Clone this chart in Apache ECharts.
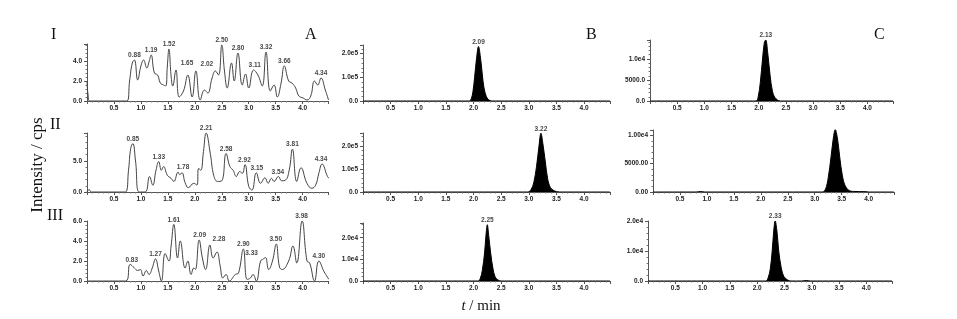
<!DOCTYPE html>
<html>
<head>
<meta charset="utf-8">
<script src="https://cdn.jsdelivr.net/npm/echarts/dist/echarts.min.js"></script>
<style>html,body{margin:0;padding:0;background:#fff}#chart{width:957px;height:319px}</style>
</head>
<body>
<div id="chart"></div>
<script>
// column A: matrix traces (time in min, intensity in cps, scaled)
var tA1 = [0, 0.02, 0.05, 0.74, 0.79, 0.84, 0.88, 0.94, 1.0, 1.05, 1.11, 1.15, 1.19, 1.25, 1.31, 1.36, 1.42, 1.46, 1.49, 1.52, 1.56, 1.59, 1.65, 1.71, 1.79, 1.87, 1.95, 2.02, 2.1, 2.18, 2.24, 2.32, 2.38, 2.44, 2.5, 2.55, 2.6, 2.68, 2.73, 2.8, 2.88, 2.94, 3.0, 3.09, 3.17, 3.25, 3.32, 3.4, 3.47, 3.53, 3.6, 3.66, 3.74, 3.8, 3.87, 3.93, 4.01, 4.08, 4.15, 4.22, 4.28, 4.34, 4.42, 4.48];
var iA1 = [2.0, 0.6, 0, 0, 2.0, 3.8, 4.1, 2.1, 3.5, 4.1, 3.3, 3.9, 4.6, 2.8, 2.6, 1.8, 1.6, 1.5, 3.5, 5.2, 2.5, 1.5, 3.1, 0.4, 1.0, 2.6, 0.4, 3.0, 0.1, 1.1, 0.8, 2.3, 3.0, 2.6, 5.6, 3.0, 1.3, 3.8, 2.0, 4.8, 1.6, 2.7, 1.3, 3.1, 2.6, 1.5, 4.9, 1.0, 1.6, 0.4, 1.8, 3.5, 2.0, 1.8, 1.3, 0.5, 0.3, 0.1, 0.5, 2.0, 1.6, 2.3, 1.1, 0.1];
var tA2 = [0, 0.04, 0.08, 0.71, 0.77, 0.81, 0.85, 0.9, 0.97, 1.08, 1.16, 1.22, 1.28, 1.33, 1.38, 1.42, 1.49, 1.56, 1.61, 1.69, 1.72, 1.76, 1.82, 1.88, 1.98, 2.04, 2.07, 2.11, 2.16, 2.21, 2.29, 2.35, 2.42, 2.5, 2.58, 2.65, 2.71, 2.77, 2.83, 2.88, 2.93, 3.0, 3.06, 3.14, 3.22, 3.3, 3.36, 3.42, 3.47, 3.55, 3.61, 3.68, 3.75, 3.81, 3.89, 3.97, 4.08, 4.17, 4.24, 4.3, 4.36, 4.46, 4.49];
var iA2 = [0, 0.4, 0, 0, 3.5, 7.0, 7.8, 5.0, 0, 0, 2.5, 1.1, 3.5, 4.9, 3.5, 4.1, 2.7, 2.2, 1.7, 3.2, 2.8, 3.1, 1.5, 0.7, 1.4, 1.1, 3.8, 3.5, 6.5, 9.5, 6.0, 2.7, 1.7, 1.8, 6.2, 4.1, 3.5, 2.5, 3.3, 3.0, 4.4, 0.9, 0.3, 3.1, 1.4, 2.3, 1.4, 2.2, 1.7, 2.5, 1.8, 1.9, 3.5, 6.9, 1.7, 3.9, 1.4, 0.6, 1.1, 3.0, 4.5, 2.5, 2.2];
var tA3 = [0, 0.72, 0.8, 0.88, 0.94, 0.99, 1.04, 1.1, 1.15, 1.21, 1.27, 1.33, 1.38, 1.45, 1.52, 1.56, 1.61, 1.68, 1.73, 1.82, 1.87, 1.93, 1.98, 2.01, 2.08, 2.14, 2.2, 2.28, 2.34, 2.41, 2.47, 2.52, 2.58, 2.64, 2.75, 2.81, 2.9, 2.97, 3.03, 3.08, 3.14, 3.22, 3.27, 3.31, 3.37, 3.44, 3.51, 3.57, 3.62, 3.74, 3.82, 3.89, 3.99, 4.08, 4.13, 4.22, 4.3, 4.4, 4.49];
var iA3 = [0, 0, 1.66, 1.3, 1.05, 1.15, 0.5, 1.05, 0.65, 1.3, 2.2, 1.0, 0, 2.75, 2.0, 3.5, 5.66, 2.3, 4.0, 1.3, 2.0, 0.65, 1.3, 1.15, 4.1, 2.3, 1.15, 3.6, 2.3, 2.9, 1.5, 0.3, 0.65, 0, 0.65, 0.8, 3.2, 0.15, 0.3, 0.65, 0, 2.0, 2.2, 2.35, 1.15, 2.0, 3.7, 1.4, 1.15, 2.0, 3.5, 1.8, 6.0, 2.0, 1.8, 0, 2.0, 0.9, 0.15];

// column B / C: single analyte peaks
var tB1 = [0, 1.92, 1.96, 1.99, 2.02, 2.055, 2.09, 2.125, 2.16, 2.19, 2.23, 2.27, 2.33, 4.47];
var iB1 = [0, 0, 10000, 40000, 100000, 180000, 230000, 185000, 110000, 55000, 20000, 6000, 0, 0];
var tB2 = [0, 2.98, 3.04, 3.09, 3.14, 3.185, 3.22, 3.255, 3.3, 3.34, 3.39, 3.46, 3.56, 4.47];
var iB2 = [0, 0, 10000, 40000, 110000, 200000, 255000, 210000, 130000, 60000, 20000, 5000, 0, 0];
var tB3 = [0, 2.08, 2.12, 2.16, 2.2, 2.225, 2.25, 2.275, 2.31, 2.35, 2.39, 2.44, 2.5, 4.47];
var iB3 = [0, 0, 1000, 5000, 13000, 21000, 26000, 21000, 13000, 6000, 2000, 500, 0, 0];
var tC1 = [0, 1.95, 1.99, 2.03, 2.07, 2.105, 2.13, 2.165, 2.21, 2.25, 2.3, 2.4, 4.47];
var iC1 = [0, 0, 1000, 4500, 10000, 14000, 14500, 11500, 6000, 2500, 800, 0, 0];
var tC2 = [0, 0.8, 0.88, 0.96, 3.14, 3.2, 3.25, 3.3, 3.345, 3.38, 3.42, 3.465, 3.51, 3.56, 3.63, 3.72, 3.95, 4.0, 4.47];
var iC2 = [0, 0, 80, 0, 0, 500, 2500, 6000, 9500, 11000, 9500, 6000, 3000, 1200, 300, 100, 60, 0, 0];
var tC3 = [0, 2.16, 2.2, 2.24, 2.275, 2.305, 2.33, 2.36, 2.395, 2.44, 2.49, 2.56, 2.62, 2.82, 2.9, 2.98, 4.47];
var iC3 = [0, 0, 1000, 4000, 10000, 17000, 20000, 17000, 10000, 4500, 1500, 300, 0, 0, 150, 0, 0];

// labelled retention times and the height the label sits on
var pkA1 = [0.88, 1.19, 1.52, 1.65, 2.02, 2.50, 2.80, 3.11, 3.32, 3.66, 4.34];
var pkA1H = [4.1, 4.6, 5.2, 3.1, 3.0, 5.6, 4.8, 3.1, 4.9, 3.5, 2.3];
var pkA2 = [0.85, 1.33, 1.78, 2.21, 2.58, 2.92, 3.15, 3.54, 3.81, 4.34];
var pkA2H = [7.8, 4.9, 3.2, 9.5, 6.2, 4.4, 3.1, 2.5, 6.9, 4.5];
var pkA3 = [0.83, 1.27, 1.61, 2.09, 2.28, 2.90, 3.33, 3.50, 3.98, 4.30];
var pkA3H = [1.66, 2.2, 5.66, 4.1, 3.6, 3.2, 2.35, 3.7, 6.0, 2.0];
var pkB1 = [2.09], pkB1H = [230000];
var pkB2 = [3.22], pkB2H = [255000];
var pkB3 = [2.25], pkB3H = [26000];
var pkC1 = [2.13], pkC1H = [14500];
var pkC2 = [3.38], pkC2H = [11000];
var pkC3 = [2.33], pkC3H = [20000];

var fmtA = function (v) { return v.toFixed(1); };
var fmtE5 = function (v) { return v === 0 ? '0.0' : (v / 1e5).toFixed(1) + 'e5'; };
var fmtE4 = function (v) { return v === 0 ? '0.0' : (v / 1e4).toFixed(1) + 'e4'; };
var fmtC1 = function (v) { return v < 1e4 ? v.toFixed(1) : (v / 1e4).toFixed(1) + 'e4'; };
var fmtC2 = function (v) { return v < 1e4 ? v.toFixed(2) : (v / 1e4).toFixed(2) + 'e4'; };

var panels = [
    {id: 'A1', t: tA1, v: iA1, pk: pkA1, ph: pkA1H, fill: false, left: 87, top: 44, width: 241, height: 57, max: 5.7, step: 2, fmt: fmtA},
    {id: 'B1', t: tB1, v: iB1, pk: pkB1, ph: pkB1H, fill: true, left: 363, top: 45, width: 247, height: 56, max: 236000, step: 100000, fmt: fmtE5},
    {id: 'C1', t: tC1, v: iC1, pk: pkC1, ph: pkC1H, fill: true, left: 650, top: 40, width: 243, height: 61, max: 14500, step: 5000, fmt: fmtC1},
    {id: 'A2', t: tA2, v: iA2, pk: pkA2, ph: pkA2H, fill: false, left: 87, top: 133, width: 241, height: 59, max: 9.5, step: 5, fmt: fmtA},
    {id: 'B2', t: tB2, v: iB2, pk: pkB2, ph: pkB2H, fill: true, left: 363, top: 133, width: 247, height: 59, max: 256000, step: 100000, fmt: fmtE5},
    {id: 'C2', t: tC2, v: iC2, pk: pkC2, ph: pkC2H, fill: true, left: 653, top: 130, width: 241, height: 62, max: 10900, step: 5000, fmt: fmtC2},
    {id: 'A3', t: tA3, v: iA3, pk: pkA3, ph: pkA3H, fill: false, left: 87, top: 221, width: 241, height: 60, max: 6.0, step: 2, fmt: fmtA},
    {id: 'B3', t: tB3, v: iB3, pk: pkB3, ph: pkB3H, fill: true, left: 363, top: 223, width: 247, height: 58, max: 26800, step: 10000, fmt: fmtE4},
    {id: 'C3', t: tC3, v: iC3, pk: pkC3, ph: pkC3H, fill: true, left: 648, top: 221, width: 244, height: 60, max: 20000, step: 10000, fmt: fmtE4}
];

// labels drawn beside their peak (with a leader in the original)
var labelShift = {'A1:1.65': [11, -2], 'A1:2.02': [11, -2], 'A3:2.28': [9, -1], 'A3:3.33': [-15, 0]};

function onStep(v, step) {
    var r = v / step;
    return Math.abs(r - Math.round(r)) < 1e-6;
}

var tickFont = {fontSize: 6.5, fontWeight: 'bold', color: '#222', fontFamily: 'Liberation Sans, Arial'};
var grids = [], xAxes = [], yAxes = [], series = [];

panels.forEach(function (p, k) {
    grids.push({left: p.left, top: p.top, width: p.width, height: p.height});
    xAxes.push({
        type: 'value', gridIndex: k, min: 0, max: 4.47, interval: 0.5,
        axisLine: {lineStyle: {color: '#555', width: 1}},
        axisTick: {length: 3, lineStyle: {color: '#555'}},
        minorTick: {show: true, splitNumber: 5, length: 1.5, lineStyle: {color: '#777'}},
        splitLine: {show: false},
        axisLabel: Object.assign({margin: 4, formatter: function (v) {
            return (v === 0 || !onStep(v, 0.5)) ? '' : v.toFixed(1);
        }}, tickFont)
    });
    yAxes.push({
        type: 'value', gridIndex: k, min: 0, max: p.max, interval: p.step,
        axisLine: {show: true, lineStyle: {color: '#555', width: 1}},
        axisTick: {show: true, length: 3, lineStyle: {color: '#555'}},
        minorTick: {show: true, splitNumber: 5, length: 1.5, lineStyle: {color: '#777'}},
        splitLine: {show: false},
        axisLabel: Object.assign({margin: 5, formatter: function (v) {
            return onStep(v, p.step) ? p.fmt(v) : '';
        }}, tickFont)
    });
    series.push({
        type: 'line', xAxisIndex: k, yAxisIndex: k,
        data: p.t.map(function (t, j) { return [t, p.v[j]]; }),
        showSymbol: false, smooth: p.fill ? 0.35 : 0.45, silent: true,
        lineStyle: {color: p.fill ? '#000' : '#444', width: 1},
        areaStyle: p.fill ? {color: '#000', opacity: 1} : null
    });
    series.push({
        type: 'scatter', xAxisIndex: k, yAxisIndex: k, symbolSize: 0,
        itemStyle: {color: 'rgba(0,0,0,0)'},
        data: p.pk.map(function (t, j) {
            var item = {value: [t, p.ph[j]]};
            var s = labelShift[p.id + ':' + t.toFixed(2)];
            if (s) item.label = {offset: s};
            return item;
        }),
        label: {show: true, position: 'top', distance: 1, fontSize: 6.5, fontWeight: 'bold', color: '#111',
            fontFamily: 'Liberation Sans, Arial',
            formatter: function (q) { return q.value[0].toFixed(2); }}
    });
});

var serif = 'Liberation Serif, Times New Roman, serif';
function tag(text, x, y) {
    return {type: 'text', left: x, top: y, style: {text: text, font: '16px ' + serif, fill: '#111'}};
}

var myChart = echarts.init(document.getElementById('chart'));
var option = {
    animation: false,
    backgroundColor: '#fff',
    grid: grids,
    xAxis: xAxes,
    yAxis: yAxes,
    series: series,
    graphic: [
        tag('I', 51, 27), tag('II', 50, 117), tag('III', 47, 208),
        tag('A', 305, 27), tag('B', 586, 27), tag('C', 874, 27),
        {type: 'text', x: 38, y: 165, rotation: Math.PI / 2,
            style: {text: 'Intensity / cps', font: '17px ' + serif, fill: '#111', align: 'center', verticalAlign: 'middle'}},
        {type: 'text', x: 481, y: 306,
            style: {text: '{i|t} / min', align: 'center', verticalAlign: 'middle',
                font: '15px ' + serif, fill: '#111',
                rich: {i: {fontStyle: 'italic', fontSize: 15, fontFamily: serif}}}}
    ]
};
myChart.setOption(option);
</script>
</body>
</html>
